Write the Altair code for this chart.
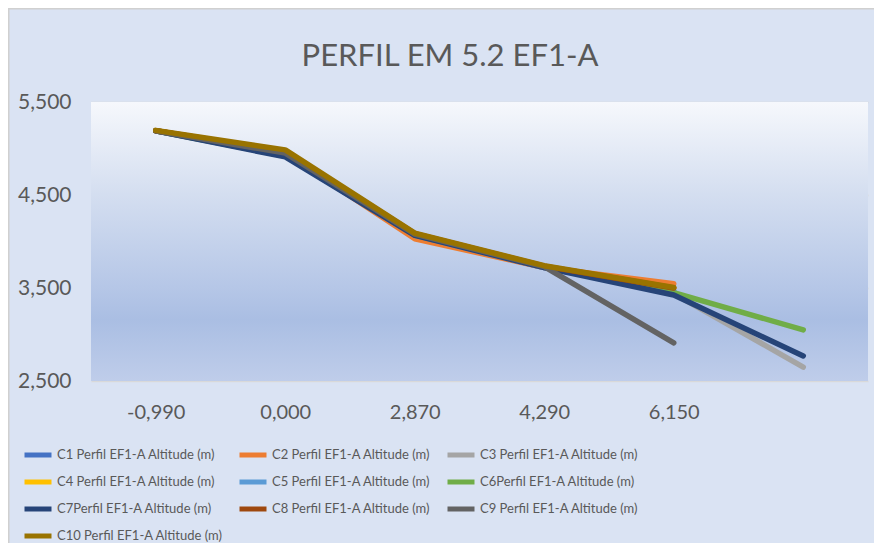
import altair as alt
import pandas as pd

title_text = ["PERFIL EM 5.2 EF1-A"]

categories = ["-0,990", "0,000", "2,870", "4,290", "6,150", " "]

series_names = [
    "C1 Perfil EF1-A Altitude (m)",
    "C2 Perfil EF1-A Altitude (m)",
    "C3 Perfil EF1-A Altitude (m)",
    "C4 Perfil EF1-A Altitude (m)",
    "C5 Perfil EF1-A Altitude (m)",
    "C6Perfil EF1-A Altitude (m)",
    "C7Perfil EF1-A Altitude (m)",
    "C8 Perfil EF1-A Altitude (m)",
    "C9 Perfil EF1-A Altitude (m)",
    "C10 Perfil EF1-A Altitude (m)",
]

colors = ["#4472C4", "#ED7D31", "#A5A5A5", "#FFC000", "#5B9BD5",
          "#70AD47", "#264478", "#9E480E", "#636363", "#997300"]

c1 = [5190, 4930, 4060, 3720, 3460]
c2 = [5190, 4950, 4030, 3720, 3545]
c3 = [5190, 4920, 4070, 3730, 3440, 2650]
c4 = [5190, 4960, 4080, 3730, 3500]
c5 = [5190, 4940, 4070, 3720, 3470]
c6 = [5190, 4920, 4070, 3730, 3450, 3050]
c7 = [5190, 4910, 4065, 3720, 3425, 2770]
c8 = [5190, 4970, 4085, 3735, 3500]
c9 = [5190, 4950, 4080, 3730, 2910]
c10 = [5195, 4985, 4090, 3740, 3505]

all_values = [c1, c2, c3, c4, c5, c6, c7, c8, c9, c10]

rows = []
for name, vals in zip(series_names, all_values):
    for cat, v in zip(categories, vals):
        rows.append({"cat": cat, "alt": v, "series": name})
df = pd.DataFrame(rows)

W, H = 777, 279
PAD = {"left": 83, "top": 94, "right": 6, "bottom": 162}
FONT = "Lato"
TXT = "#595959"

one = pd.DataFrame({"a": [0]})

bg = alt.Chart(one).mark_rect(
    color=alt.Gradient(
        gradient="linear", x1=0, x2=0, y1=0, y2=1,
        stops=[
            alt.GradientStop(offset=0, color="#F6F8FC"),
            alt.GradientStop(offset=0.33, color="#D4DEF0"),
            alt.GradientStop(offset=0.66, color="#B6C7E7"),
            alt.GradientStop(offset=0.78, color="#AABEE3"),
            alt.GradientStop(offset=1, color="#BFCDEA"),
        ],
    )
).encode(x=alt.value(0), x2=alt.value(W), y=alt.value(0), y2=alt.value(H))

border_top = alt.Chart(one).mark_rule(color="#D0D0D0", strokeWidth=1.5).encode(
    x=alt.value(-PAD["left"]), x2=alt.value(W + PAD["right"]),
    y=alt.value(-PAD["top"] + 0.75),
)
border_left = alt.Chart(one).mark_rule(color="#D0D0D0", strokeWidth=1.5).encode(
    x=alt.value(-PAD["left"] + 0.75),
    y=alt.value(-PAD["top"]), y2=alt.value(H + PAD["bottom"]),
)

title = alt.Chart(pd.DataFrame({"t": title_text})).mark_text(
    font=FONT, fontSize=31, color=TXT, align="center", baseline="alphabetic"
).encode(text="t:N", x=alt.value(359), y=alt.value(-36))

lines = alt.Chart(df).mark_line(
    strokeWidth=5.5, strokeCap="round", strokeJoin="round"
).encode(
    x=alt.X("cat:O", sort=categories,
            scale=alt.Scale(type="point", padding=0.5),
            axis=alt.Axis(title=None, labelAngle=0, labelFont=FONT, labelFontSize=20,
                          labelColor=TXT, labelPadding=21, ticks=False,
                          domain=False, grid=False)),
    y=alt.Y("alt:Q",
            scale=alt.Scale(domain=[2500, 5500], nice=False, zero=False),
            axis=alt.Axis(title=None, values=[2500, 3500, 4500, 5500], format=",d",
                          labelFont=FONT, labelFontSize=21, labelColor=TXT,
                          labelPadding=20, ticks=False, domain=False,
                          grid=True, gridColor="#D9D9D9", gridWidth=1.5)),
    color=alt.Color("series:N", sort=series_names,
                    scale=alt.Scale(domain=series_names, range=colors),
                    legend=alt.Legend(
                        title=None, orient="none", legendX=-69, legendY=337,
                        direction="horizontal",
                        columns=3, symbolType="stroke", symbolStrokeWidth=5,
                        symbolSize=729, labelFont=FONT,
                        labelFontSize=13, labelColor=TXT, labelOffset=3,
                        rowPadding=1, columnPadding=6, padding=0,
                        labelLimit=300)),
    order=alt.Order("series_idx:Q"),
).transform_calculate(
    series_idx="indexof(" + str(series_names) + ", datum.series)"
)

chart = alt.layer(border_top, border_left, bg, lines, title).properties(
    width=W, height=H,
    autosize=alt.AutoSizeParams(type="none"),
    padding=PAD,
    background="#DAE3F3",
).configure_view(stroke=None)

chart.save("out.html", embed_options={"renderer": "svg", "actions": False})
